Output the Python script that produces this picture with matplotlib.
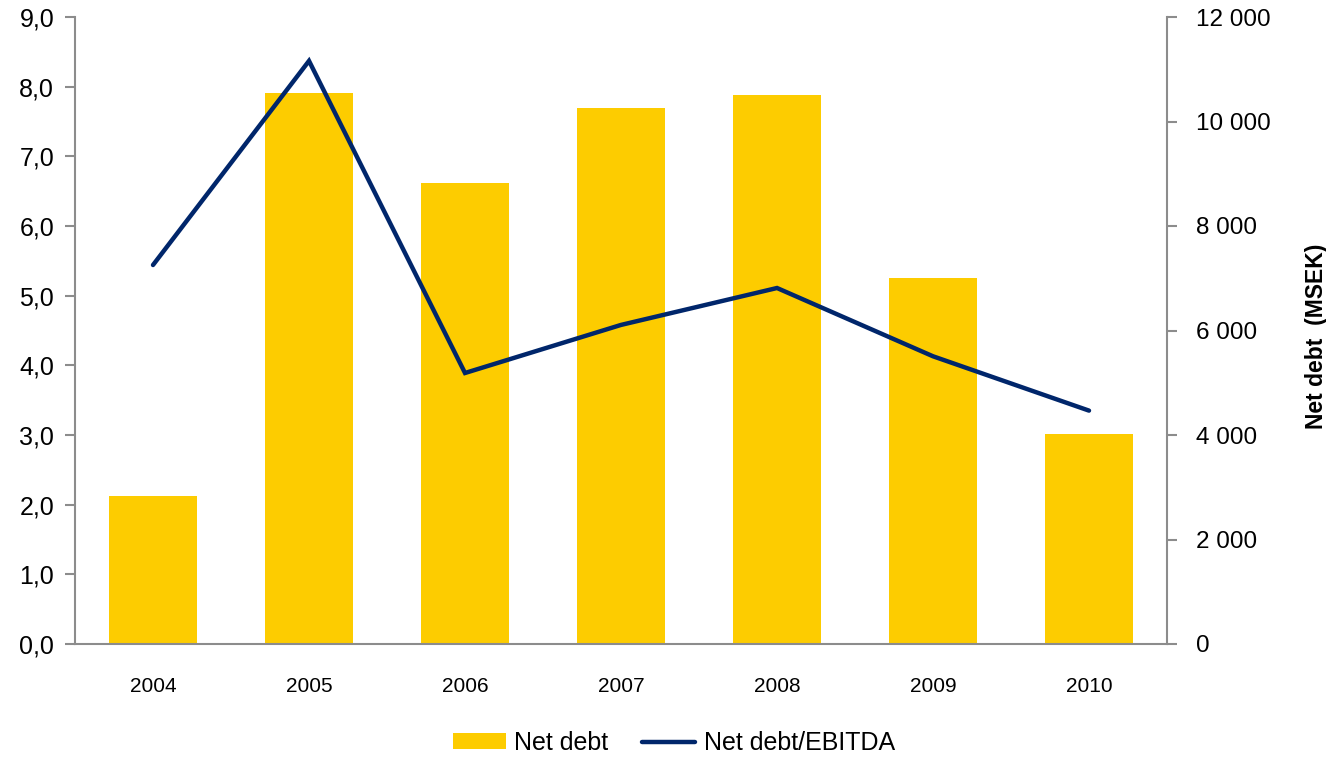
import matplotlib
matplotlib.use("Agg")
import matplotlib.pyplot as plt
from matplotlib.ticker import FuncFormatter, MultipleLocator
import numpy as np

plt.rcParams['font.family'] = ['Liberation Sans', 'DejaVu Sans']

years = ["2004", "2005", "2006", "2007", "2008", "2009", "2010"]
net_debt_msek = [2840, 10550, 8830, 10250, 10510, 7010, 4020]
net_debt_ebitda = [5.44, 8.37, 3.89, 4.58, 5.11, 4.13, 3.35]

bar_color = "#FDCC00"
line_color = "#00266B"
spine_color = "#8C8C8C"

fig = plt.figure(figsize=(13.26, 7.61), dpi=100)
ax_left = fig.add_axes([75 / 1326, 1 - 644 / 761, (1167 - 75) / 1326, (644 - 17) / 761])
ax_right = ax_left.twinx()

x = np.arange(len(years))

# Net debt bars on the right-hand axis, drawn behind the ratio line
bars = ax_right.bar(x, net_debt_msek, width=0.56, color=bar_color, zorder=1,
                    label="Net debt")
ax_right.set_ylim(0, 12000)
ax_right.yaxis.set_major_locator(MultipleLocator(2000))
ax_right.yaxis.set_major_formatter(
    FuncFormatter(lambda v, _: f"{int(v):,}".replace(",", " ")))
ax_right.set_ylabel("Net debt  (MSEK)", fontsize=16.5, fontweight="bold")
ax_right.yaxis.label.set_va("center")
ax_right.yaxis.set_label_coords((1316 - 75) / 1092, (644 - 336) / 627)

# Left axis carries the ratio line, placed above the bars
ax_left.set_zorder(ax_right.get_zorder() + 1)
ax_left.patch.set_visible(False)
line, = ax_left.plot(x, net_debt_ebitda, color=line_color, lw=3.2,
                     solid_capstyle="round", solid_joinstyle="miter",
                     label="Net debt/EBITDA")
ax_left.set_ylim(0, 9)
ax_left.yaxis.set_major_locator(MultipleLocator(1))
ax_left.yaxis.set_major_formatter(
    FuncFormatter(lambda v, _: f"{v:.1f}".replace(".", ",")))
ax_left.set_xlim(-0.5, len(years) - 0.5)
ax_left.set_xticks(x)
ax_left.set_xticklabels(years)

for ax in (ax_left, ax_right):
    ax.spines["top"].set_visible(False)
    for s in ("left", "right", "bottom"):
        ax.spines[s].set_color(spine_color)
        ax.spines[s].set_linewidth(1.5)

ax_left.spines["right"].set_visible(False)
ax_right.spines["left"].set_visible(False)
ax_right.spines["bottom"].set_visible(False)

ax_left.tick_params(axis="y", direction="out", length=7, width=1.5,
                    color=spine_color, labelsize=18, pad=8)
ax_left.tick_params(axis="x", length=0, labelsize=15, pad=24)
ax_right.tick_params(axis="y", direction="out", length=7, width=1.5,
                     color=spine_color, labelsize=17.5, pad=14)

fig.legend(handles=[bars, line], labels=["Net debt", "Net debt/EBITDA"],
           loc="center", bbox_to_anchor=(674 / 1326, 1 - 743 / 761),
           ncol=2, frameon=False, fontsize=18, handlelength=2.1,
           handleheight=0.6, columnspacing=1.35, handletextpad=0.36)

fig.savefig("out.png", dpi=100)
